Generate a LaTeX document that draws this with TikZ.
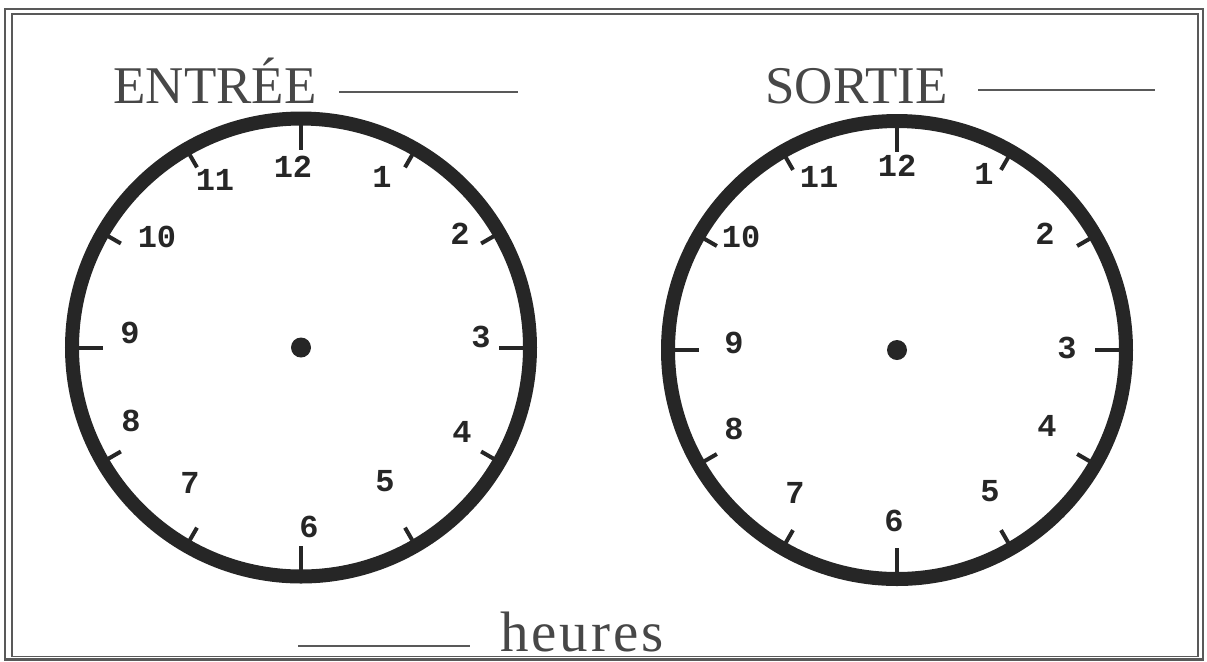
\documentclass[tikz,border=0pt]{standalone}
\usepackage{fontspec}
\setmainfont{Liberation Serif}
\setmonofont{Liberation Mono}
\usetikzlibrary{positioning}

\definecolor{ink}{gray}{0.15}
\definecolor{frameink}{gray}{0.35}
\tikzset{
  ring/.style={line width=7pt, draw=ink},
  hourtick/.style={line width=2pt, draw=ink},
  hournum/.style={font=\ttfamily\bfseries\fontsize{16}{16}\selectfont, text=ink, inner sep=0pt},
  title/.style={font=\fontsize{26.5}{30}\selectfont, text=ink!85, inner sep=0pt, anchor=base west},
  blank/.style={line width=1.2pt, draw=frameink},
}

\begin{document}
\begin{tikzpicture}[x=0.5pt,y=-0.5pt]
    \useasboundingbox (0,0) rectangle (1207,661);
    % ---- Frame ----
    \draw[frameink, line width=1.3pt] (5,9) rectangle (1203,659.5);
    \draw[frameink, line width=0.9pt] (12,14) rectangle (1198,656.5);
    % ---- Titles ----
    \node[title] (entree) at (113,103) {ENTRÉE};
    \draw[blank] (339,92) -- (518,92);
    \node[title] (sortie) at (765,103) {SORTIE};
    \draw[blank] (978,90) -- (1155,90);
    \node[title, font=\fontsize{28.5}{32}\selectfont\addfontfeature{LetterSpace=5}] (heures) at (500,651) {heures};
    \draw[blank] (298,646) -- (470,646);
    % ---- Clock ENTREE ----
    \begin{scope}[shift={(301,347.5)}]
      \foreach \h in {1,...,12} {
        \pgfmathsetmacro{\len}{ifthenelse(mod(\h,3)==0,198,208)}
        \draw[hourtick] (-90+30*\h:229) -- (-90+30*\h:\len);
      }
      \draw[ring] (0,0) circle (229);
      \fill[ink] (0,0) circle (10);
      \foreach \h/\x/\y in {12/-8/-180.5, 1/81/-170.5, 2/159/-113.5, 3/180/-10.5,
          4/161/84.5, 5/84/133.5, 6/8/179.5, 7/-111/135.5, 8/-170/73.5,
          9/-171/-14.5, 10/-144/-110.5, 11/-86/-167.5}
        \node[hournum] (in-\h) at (\x,\y) {\h};
    \end{scope}
    % ---- Clock SORTIE ----
    \begin{scope}[shift={(897,350)}]
      \foreach \h in {1,...,12} {
        \pgfmathsetmacro{\len}{ifthenelse(mod(\h,3)==0,198,208)}
        \draw[hourtick] (-90+30*\h:229) -- (-90+30*\h:\len);
      }
      \draw[ring] (0,0) circle (229);
      \fill[ink] (0,0) circle (10);
      \foreach \h/\x/\y in {12/0/-184, 1/87/-176, 2/148/-116, 3/170/-2,
          4/150/76, 5/93/141, 6/-3/171, 7/-102/143, 8/-163/79,
          9/-163/-7, 10/-156/-113, 11/-78/-173}
        \node[hournum] (out-\h) at (\x,\y) {\h};
    \end{scope}
\end{tikzpicture}
\end{document}
